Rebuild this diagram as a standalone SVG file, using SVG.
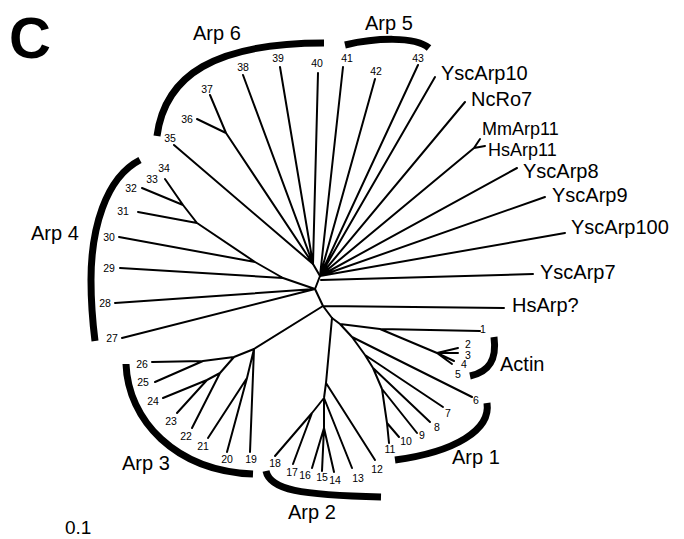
<svg xmlns="http://www.w3.org/2000/svg" width="684" height="539" viewBox="0 0 684 539">
<style>
text{font-family:"Liberation Sans",Arial,Helvetica,sans-serif;fill:#000}
.lbl{font-size:20px}
.num{font-size:10.5px;text-anchor:middle}
.br{stroke:#000;stroke-width:2;fill:none;stroke-linecap:round;stroke-linejoin:round}
.arc{stroke:#000;stroke-width:7;fill:none}
</style>
<rect width="684" height="539" fill="#fff"/>
<text x="9" y="58" style="font-size:58px;font-weight:bold">C</text>
<g id="connectors" class="br">
<path d="M315,289 L320,276 L313,264"/>
<path d="M313,264 L174,145 M313,264 L226,133 L210,95 M226,133 L197,119 M313,264 L243,75 M313,264 L280,67 M313,264 L318,73"/>
<path d="M320,276 L343,67 M320,276 L375,79 M320,276 L418,65 M320,276 L435,77 M320,276 L465,102 M320,276 L474,148 L480,139 M474,148 L485,146 M320,276 L517,168 M320,276 L545,197 M320,276 L565,233 M321,280 L533,274"/>
<path d="M315,289 L122,338 M315,289 L115,303 M315,289 L283,278 L120,268 M283,278 L255,262 L119,237 M255,262 L197,223 L138,212 M197,223 L183,205 L142,188 M183,205 L165,179"/>
<path d="M315,289 L323,306 L504,308 M323,306 L254,349 M323,306 L332,318"/>
<path d="M254,349 L250,452 M254,349 L247,378 L227,452 M247,378 L208,438 M254,349 L234,357 L220,373 L192,428 M220,373 L207,380 L177,413 M207,380 L163,398 M234,357 L203,361 L152,362 M203,361 L155,382"/>
<path d="M332,318 L326,383 L375,460 M326,383 L324,398 L312,413 L275,456 M312,413 L293,464 M324,398 L352,468 M324,398 L324,428 L312,468 M324,428 L322,471 M324,428 L334,472"/>
<path d="M332,318 L340,324 L380,329 L480,331 M380,329 L437,353 L458,348 M437,353 L458,353 M437,353 L454,361 M437,353 L452,364 M340,324 L352,337 L472,397 M352,337 L365,355 L443,407 M365,355 L373,368 L430,422 M373,368 L382,389 L417,433 M382,389 L387,423 L399,437 M387,423 L389,443"/>
</g>
<g id="clade-arp6"><path class="arc" d="M157,136 C165,75 215,43 324,43"/><text class="lbl" x="193" y="40">Arp 6</text></g>
<g id="clade-arp5"><path class="arc" d="M345,45 C375,38 415,36 429,48"/><text class="lbl" x="365" y="30">Arp 5</text></g>
<g id="clade-arp4"><path class="arc" d="M140,160 C105,178 91,230 91,280 C91,305 93,325 95,341"/><text class="lbl" x="31" y="240">Arp 4</text></g>
<g id="clade-arp3"><path class="arc" d="M126,364 C128,420 175,471 253,474"/><text class="lbl" x="122" y="470">Arp 3</text></g>
<g id="clade-arp2"><path class="arc" d="M266,471 C270,490 300,495 381,497"/><text class="lbl" x="288" y="519">Arp 2</text></g>
<g id="clade-arp1"><path class="arc" d="M487,403 C491,430 455,452 395,460"/><text class="lbl" x="452" y="464">Arp 1</text></g>
<g id="clade-actin"><path class="arc" d="M494,337 C497,360 489,372 470,376"/><text class="lbl" x="500" y="371">Actin</text></g>
<g id="leaf-YscArp10"><text class="lbl" x="441" y="80">YscArp10</text></g>
<g id="leaf-NcRo7"><text class="lbl" x="471" y="106">NcRo7</text></g>
<g id="leaf-MmArp11"><text class="lbl" x="482" y="135" style="font-size:18px">MmArp11</text></g>
<g id="leaf-HsArp11"><text class="lbl" x="488" y="155.5" style="font-size:18px">HsArp11</text></g>
<g id="leaf-YscArp8"><text class="lbl" x="523" y="177.5">YscArp8</text></g>
<g id="leaf-YscArp9"><text class="lbl" x="552" y="202">YscArp9</text></g>
<g id="leaf-YscArp100"><text class="lbl" x="571" y="234">YscArp100</text></g>
<g id="leaf-YscArp7"><text class="lbl" x="540" y="279">YscArp7</text></g>
<g id="leaf-HsArp"><text class="lbl" x="512" y="312">HsArp?</text></g>
<g id="leaves-numbered" class="num">
<text x="483" y="333">1</text><text x="468" y="348">2</text><text x="468" y="359">3</text><text x="464" y="368">4</text><text x="458" y="378">5</text>
<text x="476" y="404">6</text><text x="448" y="417">7</text><text x="437" y="431">8</text><text x="422" y="439">9</text><text x="406" y="445">10</text>
<text x="390" y="453">11</text><text x="377" y="473">12</text><text x="358" y="482">13</text><text x="335" y="484">14</text><text x="322" y="481">15</text>
<text x="305" y="479">16</text><text x="292" y="476">17</text><text x="275" y="467">18</text><text x="251" y="463">19</text><text x="227" y="463">20</text>
<text x="203" y="450">21</text><text x="186" y="440">22</text><text x="171" y="425">23</text><text x="153" y="405">24</text><text x="143" y="386">25</text>
<text x="142" y="368">26</text><text x="112" y="342">27</text><text x="105" y="307">28</text><text x="109" y="272">29</text><text x="109" y="241">30</text>
<text x="123" y="215">31</text><text x="131" y="192">32</text><text x="152" y="183">33</text><text x="164" y="172">34</text><text x="170" y="142">35</text>
<text x="187" y="123">36</text><text x="207" y="93">37</text><text x="243" y="71">38</text><text x="278" y="62">39</text><text x="317" y="67">40</text>
<text x="347" y="62">41</text><text x="376" y="75">42</text><text x="418" y="62">43</text>
</g>
<text x="65" y="534" style="font-size:19px">0.1</text>
</svg>
